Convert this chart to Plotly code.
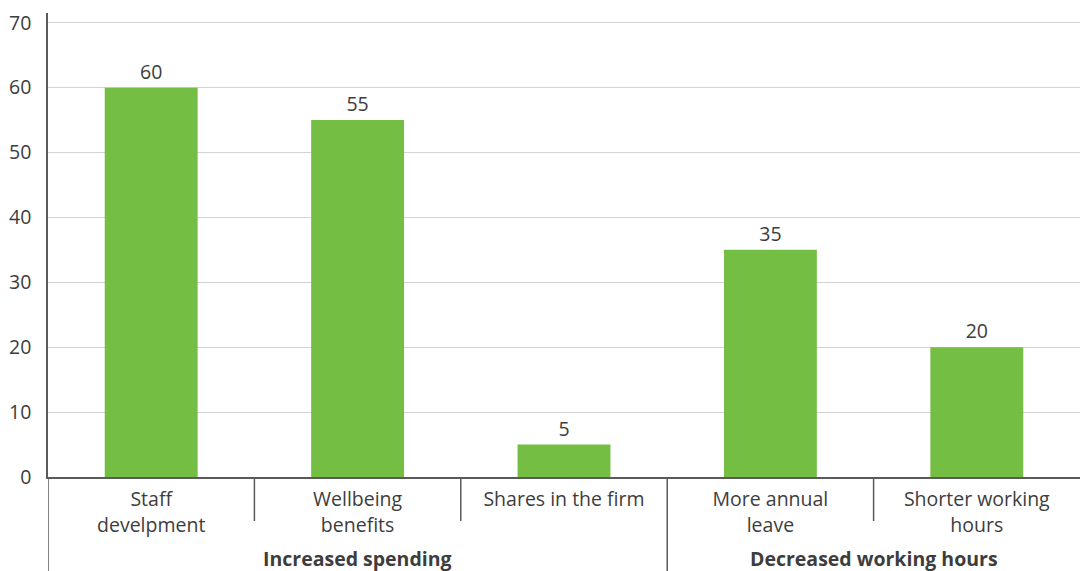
import plotly.graph_objects as go

categories = ["Staff<br>develpment", "Wellbeing<br>benefits", "Shares in the firm",
              "More annual<br>leave", "Shorter working<br>hours"]
values = [60, 55, 5, 35, 20]
groups = ["Increased spending", "Decreased working hours"]
group_spans = [(0, 2), (3, 4)]
y_ticks = [0, 10, 20, 30, 40, 50, 60, 70]

FONT = "Open Sans"
FS = 19.5
TXT = "#3d3d3d"
AX = "#5a5a5a"
GREEN = "#74BE44"

x_idx = list(range(len(categories)))
fig = go.Figure(go.Bar(
    x=x_idx, y=values, width=0.45, marker_color=GREEN, marker_line_width=0,
    text=[str(v) for v in values], textposition="outside",
    textfont=dict(family=FONT, size=FS, color=TXT), cliponaxis=False,
))

plot_h = 571 - 13 - 94
fig.update_layout(
    width=1080, height=571,
    margin=dict(l=48, r=0, t=13, b=94),
    plot_bgcolor="white", paper_bgcolor="white",
    showlegend=False,
    font=dict(family=FONT, size=FS, color=TXT),
    xaxis=dict(
        range=[-0.5, len(categories) - 0.5], tickmode="array", tickvals=x_idx,
        ticktext=categories, showgrid=False, zeroline=False,
        showline=True, linecolor=AX, linewidth=1.5, ticks="",
        ticklabelstandoff=4,
        tickfont=dict(family=FONT, size=FS, color=TXT),
    ),
    yaxis=dict(
        range=[0, 71.5], tickmode="array", tickvals=y_ticks,
        showgrid=True, gridcolor="#d3d3d3", gridwidth=1.3, zeroline=False,
        showline=True, linecolor=AX, linewidth=1.5, ticks="",
        ticklabelstandoff=11,
        tickfont=dict(family=FONT, size=FS, color=TXT),
    ),
)

def py(px):
    return -px / plot_h

shapes = []
# left axis extension
shapes.append(dict(type="line", xref="x", yref="paper", x0=-0.5, x1=-0.5, y0=0, y1=py(94),
                   line=dict(color=AX, width=1.5)))
for gi, (a, b) in enumerate(group_spans):
    # inner separators within group
    for k in range(a, b):
        shapes.append(dict(type="line", xref="x", yref="paper", x0=k + 0.5, x1=k + 0.5,
                           y0=0, y1=py(44), line=dict(color=AX, width=1.5)))
    if gi < len(group_spans) - 1:
        shapes.append(dict(type="line", xref="x", yref="paper", x0=b + 0.5, x1=b + 0.5,
                           y0=0, y1=py(94), line=dict(color=AX, width=1.5)))
fig.update_layout(shapes=shapes)

anns = []
for g, (a, b) in zip(groups, group_spans):
    anns.append(dict(x=(a - 0.5 + b + 0.5) / 2, y=0, xref="x", yref="paper",
                     yanchor="middle", yshift=-81, text="<b>" + g + "</b>", showarrow=False,
                     font=dict(family=FONT, size=FS, color=TXT)))
fig.update_layout(annotations=anns)

fig.write_html("out.html")
